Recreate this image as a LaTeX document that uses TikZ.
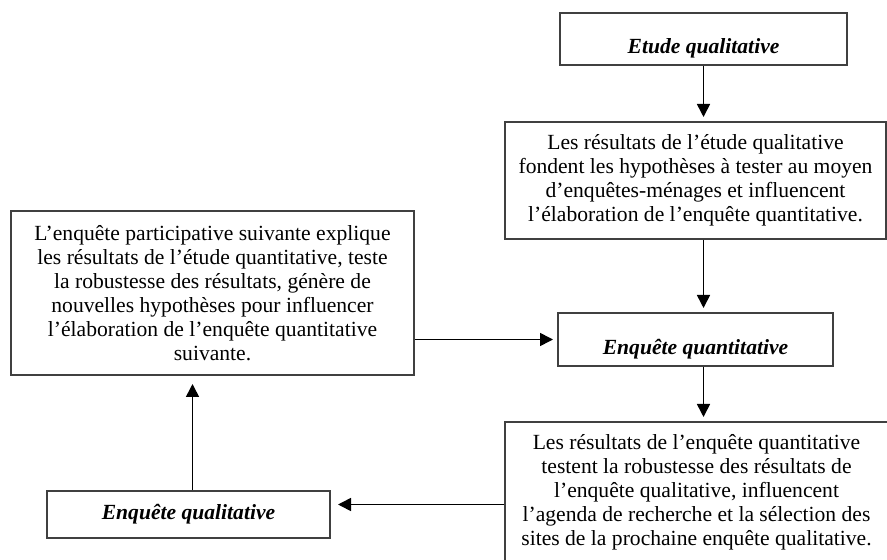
\documentclass[tikz,border=0pt]{standalone}
\usepackage{fontspec}
\setmainfont{Liberation Serif}
\usetikzlibrary{arrows.meta}

\begin{document}
\begin{tikzpicture}[
  x=0.5pt, y=-0.5pt,
  fbox/.style={draw=black!75, line width=1pt, align=center, inner sep=0pt, font=\fontsize{10.8}{12}\selectfont},
  tbox/.style={fbox, text height=15pt, text depth=0pt},
  arr/.style={-{Triangle[length=6.5pt, width=6.5pt]}, line width=0.8pt, shorten >=2pt}
]
  \useasboundingbox (0,0) rectangle (887,560);
  \clip (0,0) rectangle (887,560);

  \node[tbox, minimum width=143.5pt, minimum height=26pt] (etude) at (703.5, 39) {\textbf{\textit{Etude qualitative}}};
  \node[fbox, minimum width=190.5pt, minimum height=58.5pt] (res1) at (695.5, 180.5) {
    Les résultats de l’étude qualitative\\
    fondent les hypothèses à tester au moyen\\
    d’enquêtes-ménages et influencent\\
    l’élaboration de l’enquête quantitative.
  };
  \node[tbox, minimum width=137.5pt, minimum height=26.5pt] (quanti) at (695.5, 339.5) {\textbf{\textit{Enquête quantitative}}};
  \node[fbox, minimum width=191.5pt, minimum height=70.5pt] (res2) at (696.5, 492.5) {
    Les résultats de l’enquête quantitative\\
    testent la robustesse des résultats de\\
    l’enquête qualitative, influencent\\
    l’agenda de recherche et la sélection des\\
    sites de la prochaine enquête qualitative.
  };
  \node[fbox, minimum width=201.5pt, minimum height=82pt] (partic) at (212.5, 293) {
    L’enquête participative suivante explique\\
    les résultats de l’étude quantitative, teste\\
    la robustesse des résultats, génère de\\
    nouvelles hypothèses pour influencer\\
    l’élaboration de l’enquête quantitative\\
    suivante.
  };
  \node[fbox, minimum width=141.5pt, minimum height=23.5pt] (enqql) at (188.5, 514.5) {\textbf{\textit{Enquête qualitative}}};

  \draw[arr] (etude.south) -- (etude.south |- res1.north);
  \draw[arr] (etude.south |- res1.south) -- (etude.south |- quanti.north);
  \draw[arr] (etude.south |- quanti.south) -- (etude.south |- res2.north);
  \draw[arr] (partic.east |- quanti.west) -- (quanti.west);
  \draw[arr, shorten >=3.5pt] ([yshift=5pt]enqql.east -| res2.west) -- ([yshift=5pt]enqql.east);
  \draw[arr, shorten >=4pt] ([xshift=2pt]enqql.north) -- ([xshift=2pt]enqql.north |- partic.south);
\end{tikzpicture}
\end{document}
